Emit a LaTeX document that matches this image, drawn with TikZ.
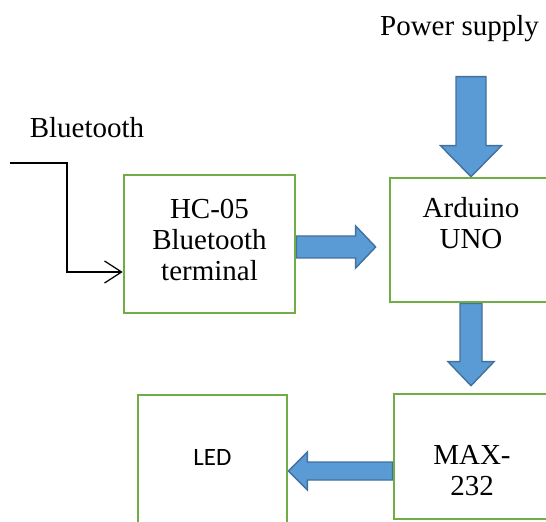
\documentclass[tikz,border=0pt]{standalone}
\usepackage{fontspec}
\setmainfont{Liberation Serif}
\newfontfamily\calibri{Carlito}
\usepackage{tikz}
\usetikzlibrary{arrows.meta, positioning, calc, backgrounds}

\definecolor{boxgreen}{RGB}{112,173,71}
\definecolor{arrfill}{RGB}{91,155,213}
\definecolor{arrline}{RGB}{65,113,156}

% block arrow: #1 start, #2 tip, #3 half shaft, #4 half head, #5 head length
\newcommand{\blockarrow}[5]{%
    \coordinate (ba-neck) at ($(#2)!#5!(#1)$);
    \draw[blockarr] ($(#1)!#3!90:(#2)$) -- ($(ba-neck)!#3!90:(#2)$) -- ($(ba-neck)!#4!90:(#2)$)
        -- (#2) -- ($(ba-neck)!#4!-90:(#2)$) -- ($(ba-neck)!#3!-90:(#2)$) -- ($(#1)!#3!-90:(#2)$) -- cycle;
}

\begin{document}
\begin{tikzpicture}[font=\fontsize{16.5}{17.6}\selectfont,
    unit/.style={draw=boxgreen, line width=1.5pt, inner sep=0pt},
    txt/.style={inner sep=0pt, align=center},
    blockarr/.style={fill=arrfill, draw=arrline, line width=0.8pt, line join=miter}]

\clip (0,0) rectangle (10.92,10.42);

% ── Blocks ───────────────────────────────────────────────────────
\node[unit, minimum width=3.42cm, minimum height=2.76cm] (hc) at (4.19, 5.54) {};
\node[unit, minimum width=3.24cm, minimum height=2.48cm] (ard) at (9.42, 5.62) {};
\node[unit, minimum width=3.12cm, minimum height=2.50cm] (max232) at (9.44, 1.29) {};
\node[unit, minimum width=2.98cm, minimum height=2.90cm] (led) at (4.25, 1.07) {};

\node[txt, below=0.5cm of hc.north] (hctxt) {HC-05\\Bluetooth\\terminal};
\node[txt, below=0.4cm of ard.north] (ardtxt) {Arduino\\UNO};
\node[txt, below=1.04cm of max232.north] (maxtxt) {MAX-\\232};
\node[txt, font=\calibri\fontsize{14.2}{17}\selectfont] (ledtxt) at (4.25, 1.28) {LED};

% ── Inputs ───────────────────────────────────────────────────────
\node[txt, anchor=north] (pwr) at (9.19, 10.12) {Power supply};
\node[txt, anchor=north] (bt) at (1.74, 8.08) {Bluetooth};

\coordinate (bt-in) at (0.2, 7.16);
\coordinate (bt-bend) at (1.34, 7.16);
\coordinate (bt-tip) at ($(hc.west)+(0,-0.56)$);
\draw[line width=0.7pt, -{Straight Barb[length=0.34cm, width=0.44cm]}] (bt-in) -- (bt-bend) |- (bt-tip);

% ── Block arrows ─────────────────────────────────────────────────
\begin{scope}[on background layer]
    \coordinate (pw-s) at ($(ard.north)+(0,2.0)$);
    \blockarrow{pw-s}{ard.north}{0.30cm}{0.61cm}{0.62cm}

    \coordinate (a2s) at ($(hc.east)+(0,-0.06)$);
    \coordinate (a2e) at ($(ard.west |- a2s)+(-0.26,0)$);
    \blockarrow{a2s}{a2e}{0.22cm}{0.42cm}{0.40cm}

    \coordinate (a3e) at ($(ard.south |- max232.north)+(0,0.14)$);
    \blockarrow{ard.south}{a3e}{0.22cm}{0.46cm}{0.48cm}

    \coordinate (a4s) at ($(max232.west)+(0,-0.29)$);
    \coordinate (a4e) at (led.east |- a4s);
    \blockarrow{a4s}{a4e}{0.18cm}{0.38cm}{0.38cm}
\end{scope}

\end{tikzpicture}
\end{document}
